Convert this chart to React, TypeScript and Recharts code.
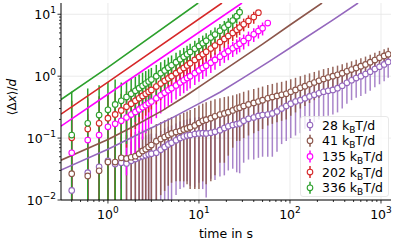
import {
  CartesianGrid,
  ComposedChart,
  ErrorBar,
  Line,
  Scatter,
  XAxis,
  YAxis,
} from "recharts";

// sampling times (s), shared by all runs
const times = [
  0.4, 0.6, 0.8, 1.0, 1.2, 1.4, 1.6, 1.8, 2.0, 2.2, 2.4, 2.6, 2.8, 3.0, 3.4, 3.8, 4.2, 4.6, 5.0, 5.6,
  6.2, 6.8, 7.4, 8.0, 9, 10, 11, 12, 13.5, 15, 17, 19, 21, 23.5, 26, 28, 31, 35, 40, 45, 50, 57, 64,
  72, 81, 91, 102, 115, 130, 146, 164, 185, 208, 234, 263, 296, 333, 375, 422, 475, 534, 601, 676,
  761, 856, 963, 1083, 1200,
];

// <Δx>/d and its error, one pair per load
const v28 = [
  0.0143, 0.0276, 0.0344, 0.043, 0.038, 0.04, 0.039, 0.043, 0.046, 0.049, 0.051, 0.053, 0.055, 0.056,
  0.058, 0.065, 0.072, 0.079, 0.084, 0.092, 0.1, 0.106, 0.11, 0.112, 0.116, 0.119, 0.12, 0.119, 0.122,
  0.126, 0.134, 0.145, 0.155, 0.162, 0.168, 0.172, 0.19, 0.205, 0.215, 0.228, 0.235, 0.24, 0.25, 0.27,
  0.3, 0.33, 0.36, 0.39, 0.41, 0.44, 0.47, 0.5, 0.53, 0.56, 0.58, 0.6, 0.64, 0.7, 0.78, 0.86, 0.93, 1.0,
  1.08, 1.18, 1.3, 1.42, 1.55, 1.7,
];
const e28 = [
  0.03, 0.03, 0.03, 0.03, 0.03, 0.04, 0.04, 0.045, 0.05, 0.052, 0.055, 0.058, 0.06, 0.062, 0.06, 0.066,
  0.072, 0.074, 0.076, 0.08, 0.085, 0.09, 0.09, 0.095, 0.1, 0.1, 0.105, 0.108, 0.1, 0.105, 0.11, 0.12,
  0.125, 0.13, 0.14, 0.145, 0.15, 0.16, 0.17, 0.18, 0.185, 0.19, 0.2, 0.21, 0.22, 0.24, 0.26, 0.28, 0.29,
  0.3, 0.31, 0.32, 0.33, 0.34, 0.35, 0.36, 0.38, 0.4, 0.42, 0.45, 0.48, 0.52, 0.56, 0.6, 0.64, 0.68, 0.72,
  0.76,
];
const v41 = [
  0.0266, 0.0245, 0.0297, 0.041, 0.041, 0.048, 0.047, 0.049, 0.051, 0.056, 0.062, 0.066, 0.072, 0.077,
  0.089, 0.097, 0.104, 0.112, 0.119, 0.125, 0.13, 0.138, 0.143, 0.15, 0.16, 0.175, 0.19, 0.198, 0.21,
  0.225, 0.24, 0.25, 0.262, 0.28, 0.3, 0.31, 0.33, 0.35, 0.37, 0.39, 0.41, 0.44, 0.46, 0.48, 0.5, 0.52,
  0.56, 0.6, 0.65, 0.69, 0.74, 0.79, 0.84, 0.9, 0.95, 1.0, 1.05, 1.12, 1.2, 1.28, 1.36, 1.45, 1.55, 1.68,
  1.82, 1.98, 2.12, 2.25,
];
const e41 = [
  0.03, 0.03, 0.03, 0.03, 0.03, 0.06, 0.065, 0.07, 0.075, 0.075, 0.075, 0.075, 0.075, 0.074, 0.08, 0.085,
  0.09, 0.095, 0.1, 0.105, 0.11, 0.118, 0.125, 0.135, 0.145, 0.16, 0.17, 0.18, 0.19, 0.2, 0.2, 0.21, 0.21,
  0.21, 0.21, 0.22, 0.23, 0.24, 0.25, 0.26, 0.27, 0.28, 0.29, 0.3, 0.31, 0.32, 0.33, 0.34, 0.35, 0.36,
  0.37, 0.38, 0.39, 0.4, 0.41, 0.42, 0.43, 0.44, 0.45, 0.46, 0.48, 0.5, 0.52, 0.54, 0.56, 0.58, 0.6, 0.62,
];
const v135 = [
  0.058, 0.093, 0.112, 0.152, 0.17, 0.19, 0.215, 0.24, 0.265, 0.29, 0.315, 0.34, 0.365, 0.39, 0.44, 0.49,
  0.54, 0.59, 0.64, 0.71, 0.79, 0.86, 0.93, 1.0, 1.12, 1.24, 1.36, 1.48, 1.65, 1.83, 2.06, 2.3, 2.53, 2.82,
  3.1, 3.35, 3.7, 4.15, 4.75, 5.35, 5.95, 7.2,
];
const e135 = [
  0.15, 0.15, 0.15, 0.15, 0.15, 0.175, 0.19, 0.2, 0.21, 0.22, 0.22, 0.22, 0.22, 0.22, 0.23, 0.24, 0.25,
  0.26, 0.27, 0.29, 0.31, 0.33, 0.35, 0.37, 0.4, 0.43, 0.46, 0.49, 0.52, 0.56, 0.6, 0.66, 0.72, 0.78, 0.85,
  0.92, 1.0, 1.1, 1.2, 1.3, 1.4, 0.4,
];
const v202 = [
  0.101, 0.14, 0.173, 0.21, 0.241, 0.28, 0.32, 0.36, 0.4, 0.44, 0.48, 0.52, 0.56, 0.6, 0.68, 0.76, 0.84,
  0.92, 1.0, 1.12, 1.24, 1.36, 1.49, 1.62, 1.83, 2.04, 2.26, 2.48, 2.8, 3.12, 3.56, 4.0, 4.45, 5.0, 5.6,
  6.1, 6.9, 7.8, 9.0, 10.6,
];
const e202 = [
  0.3, 0.3, 0.3, 0.3, 0.3, 0.24, 0.25, 0.26, 0.26, 0.27, 0.28, 0.29, 0.3, 0.31, 0.33, 0.35, 0.37, 0.39,
  0.41, 0.44, 0.47, 0.5, 0.53, 0.56, 0.6, 0.65, 0.7, 0.75, 0.82, 0.9, 1.0, 1.1, 1.2, 1.3, 1.4, 1.5, 1.6,
  1.8, 2.0, 0.6,
];
const v336 = [
  0.112, 0.173, 0.235, 0.286, 0.35, 0.4, 0.46, 0.52, 0.58, 0.64, 0.7, 0.76, 0.82, 0.88, 1.0, 1.12, 1.24,
  1.37, 1.5, 1.68, 1.87, 2.06, 2.25, 2.45, 2.76, 3.08, 3.4, 3.72, 4.2, 4.7, 5.4, 6.1, 6.8, 7.9, 9.3, 10.8,
];
const e336 = [
  0.45, 0.46, 0.48, 0.52, 0.53, 0.39, 0.38, 0.38, 0.4, 0.42, 0.44, 0.45, 0.47, 0.48, 0.52, 0.56, 0.6,
  0.63, 0.66, 0.7, 0.75, 0.8, 0.85, 0.9, 0.98, 1.05, 1.12, 1.2, 1.3, 1.4, 1.55, 1.7, 1.85, 2.0, 2.2, 2.3,
];

// model curves, read where they cross the frame and in between
const fit28T = [0.305, 1, 2.27, 5, 10, 17, 30, 60, 120, 300, 560];
const fit28V = [0.0305, 0.066, 0.12, 0.21, 0.36, 0.55, 0.92, 1.75, 3.4, 8.2, 15.2];
const fit41T = [0.305, 1, 2, 4, 7, 12, 25, 50, 100, 225];
const fit41V = [0.044, 0.095, 0.16, 0.28, 0.47, 0.8, 1.65, 3.3, 6.7, 15.2];
const fit135T = [0.305, 1, 29.7];
const fit135V = [0.156, 0.51, 15.2];
const fit202T = [0.305, 1, 17.9];
const fit202V = [0.244, 0.8, 15.2];
const fit336T = [0.305, 1, 9.8];
const fit336V = [0.42, 1.39, 15.2];

const X_DOMAIN = [0.305, 1288];
const Y_DOMAIN = [0.01, 15.2];
const FONT = "DejaVu Sans, sans-serif";

function toPoints(vals: number[], errs: number[]) {
  return vals.map((v, i) => {
    const low = Math.max(v - errs[i], Y_DOMAIN[0]);
    return { t: times[i], v, err: [v - low, errs[i]] };
  });
}

function toLine(ts: number[], vs: number[]) {
  return ts.map((t, i) => ({ t, v: vs[i] }));
}

const series = [
  { load: "28", color: "#9467bd", barOpacity: 0.8, points: toPoints(v28, e28), fit: toLine(fit28T, fit28V) },
  { load: "41", color: "#8c564b", barOpacity: 0.9, points: toPoints(v41, e41), fit: toLine(fit41T, fit41V) },
  { load: "135", color: "#ff00ff", barOpacity: 1, points: toPoints(v135, e135), fit: toLine(fit135T, fit135V) },
  { load: "202", color: "#d62728", barOpacity: 1, points: toPoints(v202, e202), fit: toLine(fit202T, fit202V) },
  { load: "336", color: "#2ca02c", barOpacity: 1, points: toPoints(v336, e336), fit: toLine(fit336T, fit336V) },
];

function logTicks(from: number, to: number, lo: number, hi: number) {
  const out: number[] = [];
  for (let d = from; d <= to; d++) {
    for (let m = 1; m <= 9; m++) {
      const v = Number((m * Math.pow(10, d)).toPrecision(3));
      if (v >= lo && v <= hi) out.push(v);
    }
  }
  return out;
}

const xTicks = logTicks(-1, 3, X_DOMAIN[0], X_DOMAIN[1]);
const yTicks = logTicks(-2, 1, Y_DOMAIN[0], Y_DOMAIN[1]);

function exponent(v: number) {
  const e = Math.log10(v);
  return Math.abs(e - Math.round(e)) < 1e-6 ? Math.round(e) : null;
}

function Pow({ e }: { e: number }) {
  return (
    <>
      10
      <tspan dy={-6} fontSize={9}>
        {e < 0 ? `\u2212${-e}` : `${e}`}
      </tspan>
    </>
  );
}

function XTick({ x, y, payload }: any) {
  const e = exponent(payload.value);
  return (
    <g>
      <line x1={x} x2={x} y1={y} y2={y + (e !== null ? 3.5 : 2)} stroke="#000" strokeWidth={0.8} />
      {e !== null && (
        <text x={x} y={y + 19} textAnchor="middle" fontSize={12.5} fontFamily={FONT} fill="#000">
          <Pow e={e} />
        </text>
      )}
    </g>
  );
}

function YTick({ x, y, payload }: any) {
  const e = exponent(payload.value);
  return (
    <g>
      <line x1={x} x2={x - (e !== null ? 3.5 : 2)} y1={y} y2={y} stroke="#000" strokeWidth={0.8} />
      {e !== null && (
        <text x={x - 5} y={y + 5} textAnchor="end" fontSize={12.5} fontFamily={FONT} fill="#000">
          <Pow e={e} />
        </text>
      )}
    </g>
  );
}

function RightTick({ x, y, payload }: any) {
  const e = exponent(payload.value);
  return <line x1={x} x2={x + (e !== null ? 3.5 : 2)} y1={y} y2={y} stroke="#000" strokeWidth={0.8} />;
}

function ring(color: string) {
  return (p: any) => <circle cx={p.cx} cy={p.cy} r={2.8} fill="#fff" stroke={color} strokeWidth={1.1} />;
}

export default function App() {
  return (
    <div style={{ position: "absolute", left: 0, top: 0, width: 394, height: 244, fontFamily: FONT }}>
      <ComposedChart width={394} height={244} margin={{ top: 3, right: 3, bottom: 0, left: 0 }}>
        <CartesianGrid
          stroke="#e6e6e6"
          strokeWidth={0.8}
          horizontalValues={[0.01, 0.1, 1, 10]}
          verticalValues={[1, 10, 100, 1000]}
        />
        <XAxis
          dataKey="t"
          type="number"
          scale="log"
          domain={X_DOMAIN}
          allowDataOverflow
          ticks={xTicks}
          interval={0}
          tickSize={0}
          tickMargin={0}
          tickLine={false}
          tick={<XTick />}
          height={44}
          stroke="#000"
        />
        <XAxis
          xAxisId="top"
          orientation="top"
          type="number"
          scale="log"
          domain={X_DOMAIN}
          allowDataOverflow
          height={0}
          tick={false}
          tickLine={false}
          stroke="#000"
        />
        <YAxis
          dataKey="v"
          type="number"
          scale="log"
          domain={Y_DOMAIN}
          allowDataOverflow
          ticks={yTicks}
          interval={0}
          tickSize={0}
          tickMargin={0}
          tickLine={false}
          tick={<YTick />}
          width={61}
          stroke="#000"
        />
        <YAxis
          yAxisId="r"
          orientation="right"
          type="number"
          scale="log"
          domain={Y_DOMAIN}
          allowDataOverflow
          ticks={yTicks}
          interval={0}
          tickSize={0}
          tickMargin={0}
          tickLine={false}
          tick={<RightTick />}
          width={0}
          stroke="#000"
        />
        {series.map((s) => (
          <Scatter
            key={`pts-${s.load}`}
            data={s.points}
            dataKey="v"
            shape={ring(s.color)}
            isAnimationActive={false}
          >
            <ErrorBar
              dataKey="err"
              direction="y"
              width={0}
              stroke={s.color}
              strokeWidth={1.5}
              strokeOpacity={s.barOpacity}
            />
          </Scatter>
        ))}
        {series.map((s) => (
          <Line
            key={`fit-${s.load}`}
            data={s.fit}
            dataKey="v"
            stroke={s.color}
            strokeWidth={1.6}
            dot={false}
            activeDot={false}
            isAnimationActive={false}
          />
        ))}
      </ComposedChart>
      <svg width={394} height={244} style={{ position: "absolute", left: 0, top: 0, pointerEvents: "none" }}>
        <text
          transform="translate(16,97) rotate(-90)"
          textAnchor="middle"
          fontSize={12}
          fontFamily={FONT}
          fill="#000"
        >
          {"\u27e8\u0394"}
          <tspan fontStyle="italic">x</tspan>
          {"\u27e9/"}
          <tspan fontStyle="italic">d</tspan>
        </text>
        <text x={226} y={238} textAnchor="middle" fontSize={12.5} fontFamily={FONT} fill="#000">
          time in s
        </text>
        <rect
          x={300.5}
          y={116.5}
          width={88}
          height={80}
          rx={2.5}
          fill="#fff"
          fillOpacity={0.8}
          stroke="#e2e2e2"
          strokeWidth={0.8}
        />
        {series.map((s, i) => {
          const cy = 125 + i * 15.7;
          return (
            <g key={`leg-${s.load}`}>
              <line x1={310} x2={310} y1={cy - 6} y2={cy + 6} stroke={s.color} strokeWidth={1.5} />
              <circle cx={310} cy={cy} r={2.8} fill="#fff" stroke={s.color} strokeWidth={1.1} />
              <text x={322} y={cy + 4.5} fontSize={12.5} fontFamily={FONT} fill="#000">
                {`${s.load} k`}
                <tspan dy={3} fontSize={9}>
                  B
                </tspan>
                <tspan dy={-3}>T/d</tspan>
              </text>
            </g>
          );
        })}
      </svg>
    </div>
  );
}
